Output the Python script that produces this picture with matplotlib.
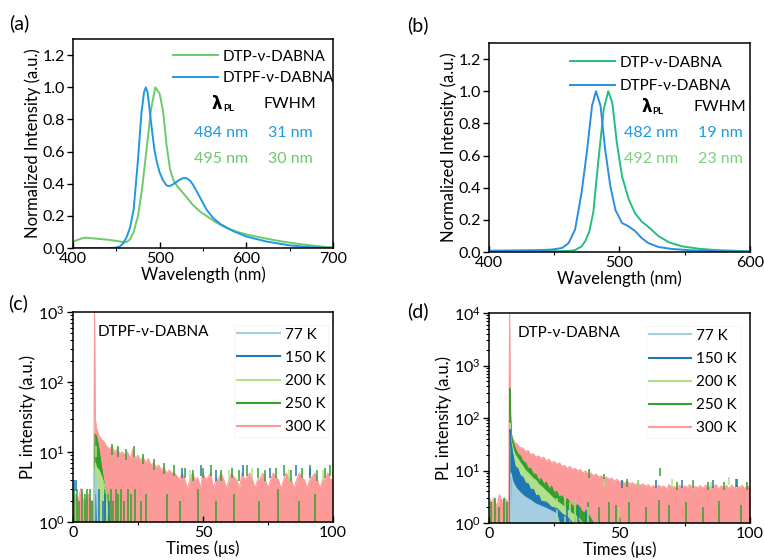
import numpy as np
import matplotlib
matplotlib.use("Agg")
import matplotlib.pyplot as plt
from matplotlib.ticker import MultipleLocator, LogLocator, NullFormatter

plt.rcParams['font.family'] = ['Lato', 'DejaVu Sans']
plt.rcParams['mathtext.fontset'] = 'custom'
plt.rcParams['mathtext.rm'] = 'Lato'
plt.rcParams['axes.linewidth'] = 1.1

# ---- (a) PL spectra, film ----
wl_a_dtp = [400, 405, 410, 415, 420, 430, 440, 450, 455, 458, 462, 466, 470, 475, 480, 485,
            490, 495, 500, 504, 508, 512, 516, 521, 529, 538, 546, 554, 565, 577, 590, 600,
            620, 640, 660, 680, 700]
pl_a_dtp = [0.04, 0.05, 0.06, 0.065, 0.062, 0.057, 0.052, 0.045, 0.04, 0.036, 0.038, 0.055,
            0.1, 0.2, 0.38, 0.62, 0.86, 1.0, 0.96, 0.85, 0.64, 0.49, 0.42, 0.38, 0.33, 0.27,
            0.23, 0.2, 0.16, 0.125, 0.1, 0.085, 0.062, 0.042, 0.026, 0.013, 0.004]
wl_a_dtpf = [400, 440, 450, 454, 458, 462, 466, 470, 475, 479, 482, 484, 486, 488, 491, 494,
             497, 500, 504, 508, 511, 515, 519, 523, 527, 531, 535, 539, 543, 548, 554, 562,
             570, 585, 600, 623, 650, 673, 700]
pl_a_dtpf = [0.0, 0.0, 0.003, 0.01, 0.03, 0.07, 0.13, 0.24, 0.55, 0.84, 0.97, 1.0, 0.97, 0.88,
             0.74, 0.61, 0.53, 0.47, 0.42, 0.39, 0.385, 0.395, 0.41, 0.425, 0.435, 0.435, 0.42,
             0.39, 0.35, 0.3, 0.24, 0.185, 0.15, 0.105, 0.072, 0.041, 0.017, 0.006, 0.0]

# ---- (b) PL spectra, solution ----
wl_b_dtp = [400, 440, 460, 466, 471, 474, 477, 480, 484, 488, 491.4, 494.5, 498, 502, 507,
            512, 517, 523, 530, 538, 548, 561, 574, 600]
pl_b_dtp = [0.005, 0.005, 0.006, 0.012, 0.035, 0.07, 0.13, 0.25, 0.58, 0.89, 1.0, 0.93, 0.68,
            0.47, 0.33, 0.24, 0.19, 0.15, 0.098, 0.06, 0.035, 0.02, 0.012, 0.004]
wl_b_dtpf = [400, 440, 448, 456, 461, 466, 471, 475, 479, 482, 485.5, 489, 493, 497, 502, 507,
             512, 517, 522, 530, 540, 556, 574, 600]
pl_b_dtpf = [0.008, 0.012, 0.015, 0.025, 0.055, 0.14, 0.37, 0.62, 0.91, 1.0, 0.91, 0.64, 0.41,
             0.26, 0.18, 0.16, 0.13, 0.087, 0.056, 0.031, 0.019, 0.01, 0.005, 0.003]

temps = ['77 K', '150 K', '200 K', '250 K', '300 K']
temp_colors = ['#a6cee3', '#1f78b4', '#b2df8a', '#33a02c', '#fb9a99']

# ---- (c) transient PL, DTPF-v-DABNA ----
t_c300 = [0, 1, 2, 3, 4, 5, 6, 7, 8, 8.3, 8.6] + list(range(9, 101))
i_c300 = [2, 2.5, 2, 3, 2, 2, 2.5, 2, 2, 1000, 30,
          22, 17, 15, 14, 12, 11, 12, 10, 11, 9.5, 10, 9, 10, 8, 11, 8, 9, 7.5, 8.5, 7, 8, 6.5,
          7, 6, 6.5, 5.5, 6, 5, 5.5, 5, 5, 4.5,
          4, 5, 4, 3, 4, 5, 4, 4.3, 3, 5, 4, 4.4, 5, 3, 4, 4.2, 5, 4, 3, 4, 5, 4.3, 4, 3, 5, 4,
          4.4, 5, 4, 3, 4, 4.2, 5, 4, 3, 4, 5, 4.4, 4, 3, 4, 5, 4.2, 4, 3, 4, 5, 4.3, 4, 3, 4,
          4.4, 5, 4, 3, 4, 4.2, 5, 4, 4]
t_c250 = [8.2, 8.5, 9, 10, 11, 12, 13, 14]
i_c250 = [1, 18, 17, 11, 6, 3.5, 2.5, 1]
t_c200 = [8.3, 8.6, 9, 10, 11, 12, 13, 13.5]
i_c200 = [1, 7, 6, 5.5, 4.5, 3.5, 2.5, 1]
t_c77 = [8.3, 8.5, 9, 9.5]
i_c77 = [1, 6, 3, 1]
spk_c = {
    '250 K': ([0.5, 1.5, 2.5, 3.5, 4.5, 5.5, 6.5, 7.5, 12.5, 13.5, 14.5, 15.5, 16.5, 17.5, 18.5,
               19.5, 21, 22.5, 24, 26, 28, 15, 17.5, 20.5, 23.5, 27, 31, 35, 39, 43, 46, 50, 53,
               57, 61, 64, 67, 71, 74, 78, 81, 84, 88, 91, 94, 97, 99, 36, 41, 48, 55, 62, 71.5,
               79, 87, 93],
              [3, 3, 2, 3, 2.5, 3, 3, 2, 3, 2.5, 3, 2, 3, 2.5, 3, 2, 3, 2.5, 3, 2, 2.5, 13, 12, 11,
               12, 9.5, 8, 7, 6.5, 6, 5.5, 6, 6.5, 5.5, 6, 5.5, 6.5, 6, 5.5, 6, 6.5, 5.5, 6, 6.5,
               5.5, 6, 6.5, 2.5, 2, 3, 2, 2.5, 2, 3, 2, 2.5]),
    '200 K': ([8.8, 45, 60, 69, 83, 96], [12, 5.5, 5.5, 6, 5.5, 5.5]),
    '150 K': ([0.3, 1, 9, 10, 11.5, 12.5, 14, 42, 49.4, 55, 65.3, 75.6, 85.9, 91],
              [4, 4, 2.5, 3, 2, 2.5, 2, 6, 6.5, 5.5, 6.5, 6, 6.5, 6]),
    '77 K': ([0.2, 8.9], [4, 4]),
}

# ---- (d) transient PL, DTP-v-DABNA ----
t_d300 = [0, 1, 2, 3, 4, 5, 6, 7, 7.6, 7.9, 8.2, 8.5] + list(range(9, 101))
i_d300 = [3, 2.5, 3, 2, 3.5, 2.5, 3, 2.5, 3, 10000, 200, 50,
          42, 34, 31, 27, 27, 23, 24, 20, 21, 18, 19, 17, 18, 15, 16.5, 14, 15, 13, 14, 12,
          12.5, 11, 12, 10.5, 11, 9.8, 10.5, 9, 9.8, 8.5, 9, 8, 8.6, 7.5, 8, 7, 7.5, 6.8, 7.2,
          6.3, 6.8, 6, 6.4, 5.7, 6.2, 5.5, 5.9, 5.3, 5.8, 5.2, 5.6, 5,
          5.4, 4.7, 5.2, 4.5, 5.3, 4.8, 5.1, 4.4, 5.4, 4.7, 5, 4.5, 5.3, 4.6, 5.1, 4.8, 5.4,
          4.4, 5, 4.7, 5.2, 4.5, 5.3, 4.6, 5, 4.8, 5.4, 4.4, 5.1, 4.7, 5.2, 4.5, 5.3, 4.6, 5,
          4.8, 5.2, 4.5, 5.1, 4.7]
t_d250 = [7.85, 8.0, 8.3, 8.6, 9, 10, 11, 12, 13, 14, 15, 16, 17, 18, 19, 20, 21, 22, 23, 24,
          25, 26, 27, 28, 29, 30, 32, 34, 36, 38, 40]
i_d250 = [1, 370, 100, 50, 38, 27, 21, 19, 15, 14, 11, 11, 8.5, 8.5, 6.5, 7, 5.5, 6, 4.5, 5,
          3.8, 4, 3.1, 3.3, 2.6, 2.9, 2.1, 2.2, 1.6, 1.5, 1]
t_d200 = [7.9, 8.1, 8.4, 9, 10, 11, 12, 13, 14, 15, 16, 17, 18, 19, 20, 21, 22, 23, 24, 25, 26,
          27, 28, 30, 32, 34, 36]
i_d200 = [1, 80, 40, 28, 20, 17, 14, 12, 10, 9, 8, 7, 6.5, 5.5, 5, 4.5, 4, 3.6, 3.2, 2.9, 2.6,
          2.4, 2.2, 1.8, 1.5, 1.3, 1]
t_d150 = [7.95, 8.1, 8.4, 9, 10, 11, 12, 13, 14, 15, 16, 17, 18, 19, 20, 22, 24, 26, 28, 30, 32]
i_d150 = [1, 60, 35, 22, 12, 11, 8, 7.5, 5.8, 5.6, 4.3, 4.4, 3.3, 3.4, 2.6, 2.5, 2, 1.9, 1.5,
          1.3, 1]
t_d77 = [8.2, 8.4, 9, 10, 11, 12, 13, 14, 16, 18, 20, 22, 24, 26, 27]
i_d77 = [1, 9, 6.5, 5, 4.3, 3.8, 3.4, 3.1, 2.7, 2.3, 2.1, 1.9, 1.7, 1.5, 1]
spk_d = {
    '250 K': ([0.6, 2.2, 3.8, 5.6, 6.8, 33, 35, 38, 42, 46, 48.5, 53.6, 60, 65, 69, 75.5, 82, 88,
               96.5, 38.5, 44, 53, 57, 65.5, 72, 78, 84, 90, 94.5, 99],
              [2.5, 3, 2, 3, 2.5, 2.5, 2, 2.5, 2, 2.5, 2.2, 2.5, 2, 2.8, 2.2, 2.5, 2, 2.6, 2.2,
               10.5, 8.5, 7, 6.5, 11, 6, 6.5, 6, 6, 7, 6]),
    '200 K': ([26, 29, 31, 33, 38, 44, 50, 57, 70, 85, 92],
              [3, 3, 2.5, 2.8, 2, 7, 2, 6.5, 7, 6, 7.5]),
    '150 K': ([30, 34, 37, 51, 64, 74, 86, 95], [2, 2.2, 1.8, 6.5, 6.5, 6.5, 6.5, 7]),
    '77 K': ([], []),
}

fig = plt.figure(figsize=(7.64, 5.6), dpi=100)
ax_a = fig.add_axes([0.0955, 0.557, 0.3404, 0.3732])
ax_b = fig.add_axes([0.640, 0.550, 0.3416, 0.3732])
ax_c = fig.add_axes([0.0955, 0.0679, 0.3404, 0.375])
ax_d = fig.add_axes([0.640, 0.066, 0.3416, 0.375])

TICK = 11.5
TXT = 11
LAB = 12


def style(ax):
    ax.tick_params(axis='x', direction='in', labelsize=TICK, length=4, width=1, pad=3)
    ax.tick_params(axis='y', direction='out', labelsize=TICK, length=4, width=1, pad=2)
    ax.tick_params(which='minor', length=2, width=0.8)


def spectra(ax, wl1, y1, c1, wl2, y2, c2, xmax, lam_pos, fw_x, rows, leg_anchor, leg_sp):
    ax.plot(wl1, y1, color=c1, lw=1.4, label='DTP-\u03bd-DABNA')
    ax.plot(wl2, y2, color=c2, lw=1.4, label='DTPF-\u03bd-DABNA')
    ax.set_xlim(400, xmax)
    ax.set_ylim(0, 1.3)
    ax.xaxis.set_major_locator(MultipleLocator(100))
    ax.xaxis.set_minor_locator(MultipleLocator(50))
    ax.yaxis.set_major_locator(MultipleLocator(0.2))
    ax.yaxis.set_major_formatter(matplotlib.ticker.FormatStrFormatter('%.1f'))
    ax.set_xlabel('Wavelength (nm)', fontsize=LAB, labelpad=0)
    ax.set_ylabel('Normalized Intensity (a.u.)', fontsize=LAB, labelpad=1)
    style(ax)
    ax.legend(loc='upper left', bbox_to_anchor=leg_anchor, frameon=False, fontsize=TXT,
              handlelength=2.95, handletextpad=0.3, labelspacing=leg_sp, borderpad=0,
              borderaxespad=0)
    lx, ly = lam_pos
    ax.text(lx + 0.005, ly, '\u03bb', transform=ax.transAxes, fontsize=TXT + 1,
            fontweight='bold', family='DejaVu Sans', ha='right', va='center')
    ax.text(lx + 0.007, ly - 0.02, 'PL', transform=ax.transAxes, fontsize=7,
            fontweight='bold', ha='left', va='center')
    ax.text(fw_x, ly, 'FWHM', transform=ax.transAxes, fontsize=TXT + 0.5, ha='center',
            va='center')
    for (yy, s1, s2, col) in rows:
        ax.text(lx, yy, s1, transform=ax.transAxes, fontsize=TXT + 0.5, color=col,
                ha='center', va='center')
        ax.text(fw_x, yy, s2, transform=ax.transAxes, fontsize=TXT + 0.5, color=col,
                ha='center', va='center')


spectra(ax_a, wl_a_dtp, pl_a_dtp, '#6acb6a', wl_a_dtpf, pl_a_dtpf, '#1f9ae0', 700,
        (0.57, 0.689), 0.835,
        [(0.55, '484 nm', '31 nm', '#1f9ae0'), (0.426, '495 nm', '30 nm', '#6acb6a')],
        (0.385, 0.95), 0.48)
spectra(ax_b, wl_b_dtp, pl_b_dtp, '#22c07c', wl_b_dtpf, pl_b_dtpf, '#2a8fe0', 600,
        (0.62, 0.694), 0.885,
        [(0.569, '482 nm', '19 nm', '#1f9ae0'), (0.445, '492 nm', '23 nm', '#7cd17c')],
        (0.31, 0.94), 0.62)


def decay(ax, t300, i300, fills, spikes, ymax, name, name_x, leg_anchor):
    c300 = temp_colors[4]
    ax.fill_between(t300, 1, i300, color=c300, lw=0)
    ax.plot(t300, i300, color=c300, lw=0.8)
    for lab in ['250 K', '200 K', '150 K', '77 K']:
        col = temp_colors[temps.index(lab)]
        if lab in fills:
            tt, ii = fills[lab]
            ax.fill_between(tt, 1, ii, color=col, lw=0)
            ax.plot(tt, ii, color=col, lw=0.8)
        st, si = spikes[lab]
        if st:
            si = np.asarray(si, dtype=float)
            # spikes above the 300 K envelope only show their tips
            lo = np.where(si > 3.5, si * 0.7, 1)
            ax.vlines(st, lo, si, color=col, lw=1.1)
    ax.set_yscale('log')
    ax.set_xlim(0, 100)
    ax.set_ylim(1, ymax)
    ax.xaxis.set_major_locator(MultipleLocator(50))
    ax.xaxis.set_minor_locator(MultipleLocator(25))
    ax.yaxis.set_major_locator(LogLocator(base=10))
    ax.yaxis.set_minor_locator(LogLocator(base=10, subs=np.arange(2, 10)))
    ax.yaxis.set_minor_formatter(NullFormatter())
    ax.set_xlabel('Times (\u03bcs)', fontsize=LAB, labelpad=0)
    ax.set_ylabel('PL intensity (a.u.)', fontsize=LAB, labelpad=1)
    style(ax)
    ax.text(name_x, 0.905, name, transform=ax.transAxes, fontsize=TXT, va='center')
    handles = [ax.plot([], [], color=c, lw=1.5, label=l)[0] for l, c in zip(temps, temp_colors)]
    leg = ax.legend(handles=handles, loc='upper left', bbox_to_anchor=leg_anchor,
                    fontsize=TXT, handlelength=2.8, handletextpad=0.3, labelspacing=0.6,
                    borderpad=0.2, borderaxespad=0, framealpha=1, fancybox=False)
    leg.get_frame().set_edgecolor('#f4f4f4')
    leg.get_frame().set_linewidth(0.6)


decay(ax_c, t_c300, i_c300,
      {'250 K': (t_c250, i_c250), '200 K': (t_c200, i_c200), '77 K': (t_c77, i_c77)},
      spk_c, 1000, 'DTPF-\u03bd-DABNA', 0.095, (0.62, 0.94))
decay(ax_d, t_d300, i_d300,
      {'250 K': (t_d250, i_d250), '200 K': (t_d200, i_d200), '150 K': (t_d150, i_d150),
       '77 K': (t_d77, i_d77)},
      spk_d, 10000, 'DTP-\u03bd-DABNA', 0.11, (0.6, 0.94))

for x, y, s in [(9, 23, '(a)'), (407, 25, '(b)'), (8, 303, '(c)'), (407, 311, '(d)')]:
    fig.text(x / 764, 1 - y / 560, s, fontsize=14, va='center', ha='left')

fig.savefig('out.png', dpi=100)
